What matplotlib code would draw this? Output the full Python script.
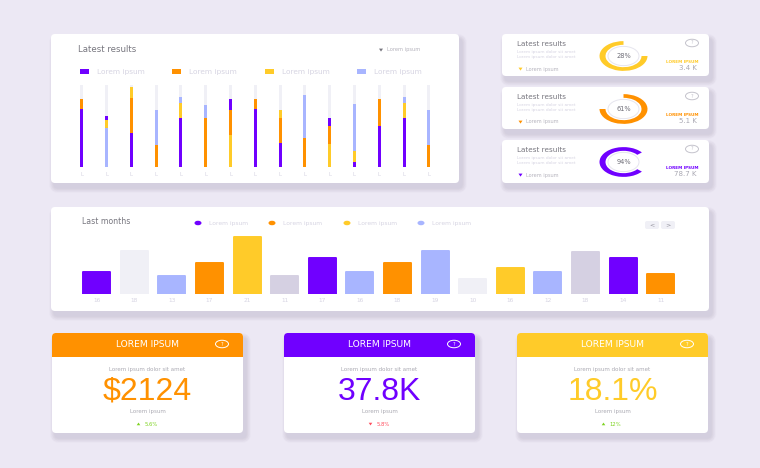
import matplotlib.pyplot as plt
from matplotlib.patches import FancyBboxPatch, Rectangle, Ellipse, Polygon

W, H = 760, 468

purple = "#7000FF"
orange = "#FF9100"
yellow = "#FFCB29"
blue = "#A8B5FF"
pale = "#F0F0F6"
mauve = "#D5D0E2"
bg = "#ECE8F4"
dark = "#77767F"
light = "#D6D4E2"
mid = "#B5B3BD"

# stacked columns, bottom to top
stack_values = [[71, 12], [47, 10, 5], [41, 43, 13], [27, 42], [60, 18, 7],
                [59, 17], [39, 31, 13], [71, 12], [29, 31, 9], [35, 53],
                [28, 22, 9], [6, 13, 58], [50, 33], [60, 18, 7], [27, 42]]
stack_colors = [[purple, orange], [blue, yellow, purple], [purple, orange, yellow],
                [orange, blue], [purple, yellow, blue], [orange, blue],
                [yellow, orange, purple], [purple, orange], [purple, orange, yellow],
                [orange, blue], [yellow, orange, purple], [purple, yellow, blue],
                [purple, orange], [purple, yellow, blue], [orange, blue]]
legend_names = ["Lorem ipsum"] * 4
legend_colors = [purple, orange, yellow, blue]

month_labels = ["16", "18", "13", "17", "21", "11", "17", "16",
                "18", "19", "10", "16", "12", "18", "14", "11"]
month_values = [22.5, 43, 18, 31, 57, 18, 36, 22.5, 31, 43.5, 15, 26, 22.5, 42, 36, 20]
month_colors = [purple, pale, blue, orange, yellow, mauve, purple, blue,
                orange, blue, pale, yellow, blue, mauve, purple, orange]

donut_labels = ["28%", "61%", "94%"]
donut_spans = [270, 270, 280]
donut_starts = [90, 180, 40]
donut_colors = [yellow, orange, purple]
side_values = ["3.4 K", "5.1 K", "78.7 K"]
side_label_colors = [yellow, orange, purple]

big_values = ["$2124", "37.8K", "18.1%"]
big_colors = [orange, purple, yellow]
deltas = ["5.6%", "5.8%", "12%"]
delta_colors = ["#7ED321", "#FF4D5E", "#7ED321"]

fig = plt.figure(figsize=(W / 100, H / 100), dpi=100, facecolor=bg)
bg_ax = fig.add_axes([0, 0, 1, 1])
bg_ax.set_xlim(0, W)
bg_ax.set_ylim(H, 0)
bg_ax.axis("off")


def px_axes(x0, y0, x1, y1):
    ax = fig.add_axes([x0 / W, 1 - y1 / H, (x1 - x0) / W, (y1 - y0) / H])
    ax.patch.set_alpha(0)
    return ax


def card(x0, y0, x1, y1, rad=4):
    # soft shadow from stacked see-through boxes
    for i in range(12, 0, -1):
        s = FancyBboxPatch((x0 - i * 0.4 + 3, y0 - i * 0.4 + 5),
                           x1 - x0 + i * 0.8, y1 - y0 + i * 0.8,
                           boxstyle=f"round,pad=0,rounding_size={rad + i * 0.4}",
                           fc="#8A80B0", ec="none", alpha=0.018)
        bg_ax.add_patch(s)
    bg_ax.add_patch(FancyBboxPatch((x0, y0), x1 - x0, y1 - y0,
                                   boxstyle=f"round,pad=0,rounding_size={rad}",
                                   fc="white", ec="none"))


def txt(x, y, s, size=3.6, color=light, ha="left", **kw):
    bg_ax.text(x, y, s, fontsize=size, color=color, ha=ha, va="center", **kw)


def tri(x, y, color, up=False, r=2):
    d = -r if up else r
    bg_ax.add_patch(Polygon([(x - r, y - d * 0.7), (x + r, y - d * 0.7), (x, y + d * 0.8)],
                            fc=color, ec="none"))


def help_icon(x, y, color):
    bg_ax.add_patch(Ellipse((x, y), 13, 7.5, fc="none", ec=color, lw=0.7))
    txt(x, y, "?", 3.5, color, ha="center")


# top left card
card(51, 34, 459, 183)
txt(78, 50, "Latest results", 6.2, dark)
tri(381, 50, dark)
txt(387, 50, "Lorem ipsum", 3.7, mid)
for x, name, c in zip([80, 172, 265, 357], legend_names, legend_colors):
    bg_ax.add_patch(Rectangle((x, 69), 8.5, 5, fc=c, ec="none"))
    txt(x + 17, 72, name, 5.3, light)

ax = px_axes(70, 85, 441, 166.7)
step = 24.8
ax.set_xlim((70 - 81.7) / step, (441 - 81.7) / step)
ax.set_ylim(0, 100)
positions = list(range(len(stack_values)))
ax.bar(positions, [100] * len(positions), width=3 / step, color=pale)
for p, vals, cols in zip(positions, stack_values, stack_colors):
    bottom = 0
    for v, c in zip(vals, cols):
        ax.bar(p, v, bottom=bottom, width=3 / step, color=c)
        bottom += v
ax.set_xticks(positions)
ax.set_xticklabels(["L"] * len(positions), fontsize=4, color=light)
ax.tick_params(length=0, pad=4)
ax.set_yticks([])
for sp in ax.spines.values():
    sp.set_visible(False)

# three small donut cards
card_tops = [34, 87, 140]
card_bottoms = [76, 129, 183]
for i, top in enumerate(card_tops):
    card(502, top, 709, card_bottoms[i])
    txt(517, top + 10, "Latest results", 5.2, dark)
    txt(517, top + 18, "Lorem ipsum dolor sit amet", 3.1, light)
    txt(517, top + 23, "Lorem ipsum dolor sit amet", 3.1, light)
    tri(520.5, top + 35, donut_colors[i])
    txt(526, top + 35, "Lorem ipsum", 3.6, mid)
    help_icon(692, top + 9, "#C4C3CC")
    txt(698, top + 28, "LOREM IPSUM", 3, side_label_colors[i], ha="right", fontweight="bold")
    txt(697, top + 34, side_values[i], 5, "#A9A8B2", ha="right")

    # the rings are stretched wide in the picture, so no equal aspect here
    cy = top + 22
    d_ax = px_axes(623.5 - 25, cy - 15.5, 623.5 + 25, cy + 15.5)
    d_ax.pie([donut_spans[i], 360 - donut_spans[i]], startangle=donut_starts[i],
             colors=[donut_colors[i], "none"], radius=0.96,
             wedgeprops={"width": 0.24})
    d_ax.pie([1], colors=["white"], radius=0.62,
             wedgeprops={"edgecolor": "#E6E5EE", "linewidth": 0.7})
    d_ax.set_aspect("auto")
    d_ax.set_xlim(-1, 1)
    d_ax.set_ylim(-1, 1)
    d_ax.text(0, 0, donut_labels[i], fontsize=4.8, color="#6F6E78", ha="center", va="center")

# last months card
card(51, 207, 709, 311)
txt(82, 222, "Last months", 5.6, dark)
for x, name, c in zip([198, 272, 347, 421], legend_names, legend_colors):
    bg_ax.add_patch(Ellipse((x, 223), 7, 4.5, fc=c, ec="none"))
    txt(x + 11, 223, name, 4.3, light)
for x, s in zip([645, 661], ["<", ">"]):
    bg_ax.add_patch(FancyBboxPatch((x, 221), 14, 8, boxstyle="round,pad=0,rounding_size=2",
                                   fc=pale, ec="none"))
    txt(x + 7, 224.7, s, 4.5, "#8F8E98", ha="center")

ax = px_axes(77, 229, 680, 294)
step = 37.6
ax.set_xlim((77 - 96.7) / step, (680 - 96.7) / step)
ax.set_ylim(0, 65)
positions = list(range(len(month_values)))
bars = ax.bar(positions, month_values, width=27 / step, color=month_colors,
              edgecolor=month_colors, linewidth=1.4)
for b in bars:
    b.set_joinstyle("round")
ax.set_xticks(positions)
ax.set_xticklabels(month_labels, fontsize=4.2, color=light)
ax.tick_params(length=0, pad=3)
ax.set_yticks([])
for sp in ax.spines.values():
    sp.set_visible(False)

# bottom kpi cards
lefts = [52, 284, 517]
for i, x0 in enumerate(lefts):
    x1 = x0 + 191
    cx = x0 + 95.5
    card(x0, 333, x1, 433)
    head = FancyBboxPatch((x0, 333), 191, 30, boxstyle="round,pad=0,rounding_size=4",
                          fc=big_colors[i], ec="none")
    bg_ax.add_patch(head)
    clip = Rectangle((x0, 333), 191, 23.5, transform=bg_ax.transData)
    head.set_clip_path(clip)
    txt(cx, 344.5, "LOREM IPSUM", 6.6, "white", ha="center")
    help_icon(x0 + 170, 344, "white")
    txt(cx, 370, "Lorem ipsum dolor sit amet", 4, "#ABAAB3", ha="center")
    txt(cx, 392, big_values[i], 23, big_colors[i], ha="center", family="Liberation Sans")
    txt(cx, 411, "Lorem ipsum", 4, "#ABAAB3", ha="center")
    tri(cx - 9, 424, delta_colors[i], up=i != 1, r=1.8)
    txt(cx - 3, 424, deltas[i], 3.8, delta_colors[i])

fig.savefig("out.png", dpi=100, facecolor=bg)
